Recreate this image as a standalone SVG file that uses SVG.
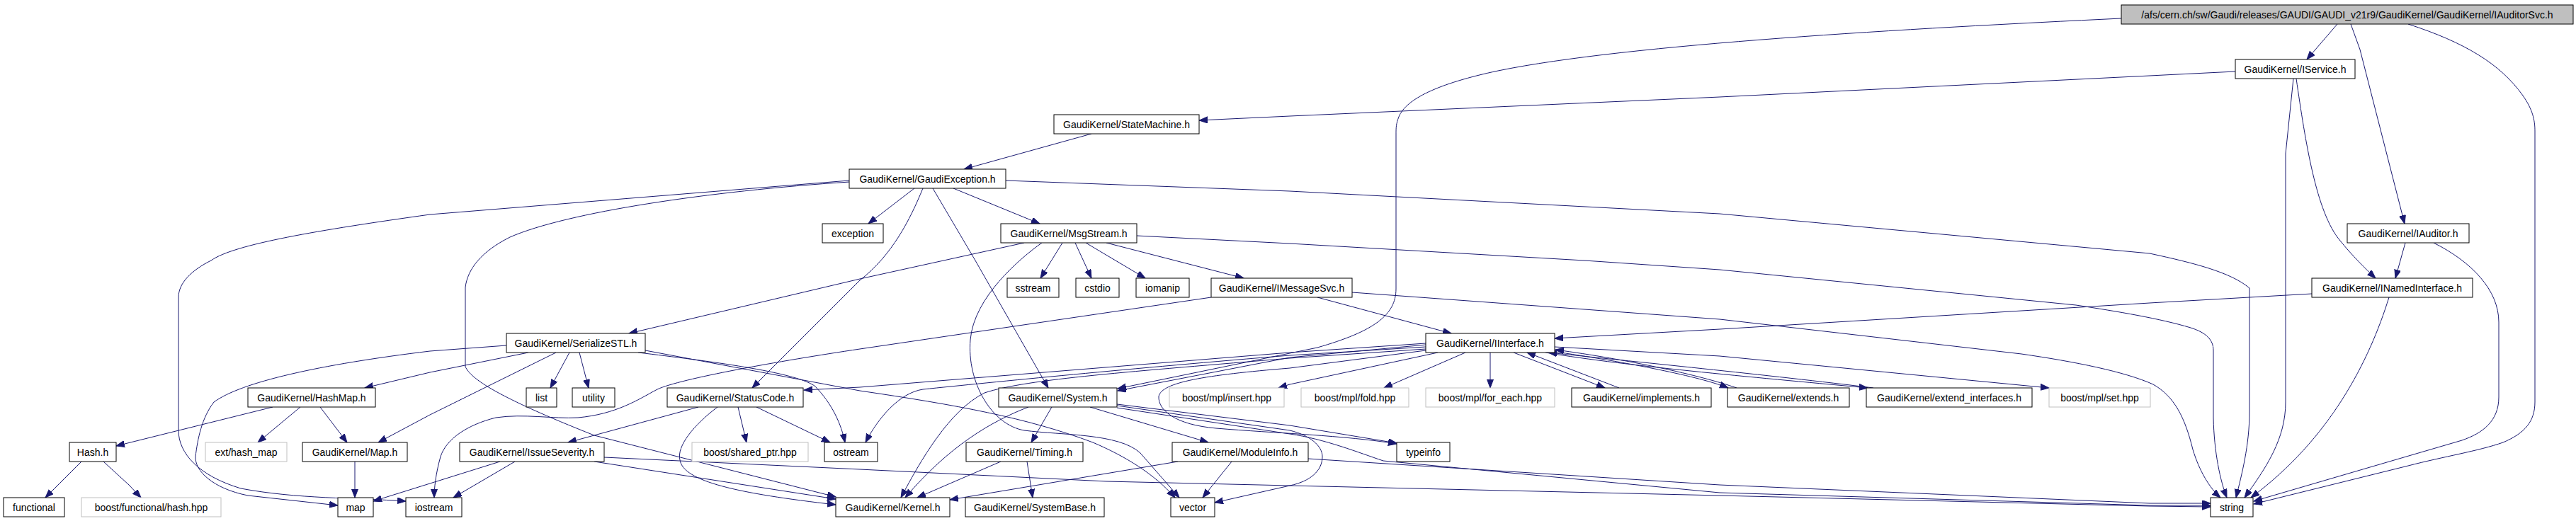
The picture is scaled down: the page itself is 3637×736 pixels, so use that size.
<svg xmlns="http://www.w3.org/2000/svg" width="3637" height="736" viewBox="0 0 3637 736">
<style>
.node rect{fill:#ffffff;stroke:#000000;stroke-width:1}
.node.ext rect{stroke:#bfbfbf}
.node.root rect{fill:#bfbfbf}
.node text{font-family:"Liberation Sans",Arial,sans-serif;font-size:14px;fill:#000000;text-anchor:middle}
#edges path{fill:none;stroke:#191970;stroke-width:1;marker-end:url(#ah)}
</style>
<defs>
<marker id="ah" markerUnits="userSpaceOnUse" markerWidth="13" markerHeight="10" refX="12" refY="4.5" orient="auto" viewBox="0 0 13 10">
<path d="M0,0 L12,4.5 L0,9 z" fill="#191970" stroke="#191970" stroke-width="1"/>
</marker>
</defs>
<rect x="0" y="0" width="3637" height="736" fill="#ffffff"/>
<g id="edges">
<path d="M3300,34 L3257,84"/>
<path d="M3319,34 L3332,70 L3395,316"/>
<path d="M3400,34 C3480,60 3530,90 3562,135 C3576,155 3579,170 3579,185 L3579,568 C3579,595 3565,612 3534,625 C3500,637 3450,645 3400,658 L3182,712"/>
<path d="M2995,26 C2700,40 2300,62 2115,100 C2030,118 1985,140 1975,165 C1971,175 1971,180 1971,190 L1971,408 C1971,445 1940,468 1860,491 L1578,549"/>
<path d="M3156,101 L3035,107 L2428,137 L1821,164 L1693,170"/>
<path d="M3242,111 C3255,200 3270,300 3304,340 C3320,360 3340,380 3354,393"/>
<path d="M3238,111 L3227,217 L3227,568 C3227,620 3200,660 3169,703"/>
<path d="M3396,343 L3382,393"/>
<path d="M3436,343 C3490,370 3528,410 3528,455 L3528,561 C3528,595 3505,612 3476,622 L3182,708"/>
<path d="M3264,415 L3035,428 L2428,465 L2195,478"/>
<path d="M3373,420 C3345,510 3290,620 3178,703"/>
<path d="M1541,189 L1361,239"/>
<path d="M1291,266 L1226,316"/>
<path d="M1346,266 L1468,316"/>
<path d="M1303,266 C1285,310 1260,360 1214,396 L1062,548"/>
<path d="M1317,266 L1377,368 L1480,548"/>
<path d="M1199,257 C1000,270 800,300 720,335 C680,355 660,380 657,406 L657,518 C665,535 700,560 839,615 L1180,702"/>
<path d="M1199,255 L607,303 C450,325 330,345 298,368 C270,382 252,400 252,420 L252,608 C252,640 280,672 340,690 C420,705 500,703 573,708"/>
<path d="M1420,255 L1821,270 L2428,302 L3035,358 C3100,372 3150,385 3176,407 L3176,581 C3176,630 3165,670 3157,703"/>
<path d="M1446,343 L1214,394 L888,471"/>
<path d="M1471,343 C1440,365 1375,420 1370,480 C1365,540 1400,600 1446,608 C1500,615 1580,612 1610,640 L1665,703"/>
<path d="M1500,343 L1469,393"/>
<path d="M1518,343 L1541,393"/>
<path d="M1533,343 L1617,393"/>
<path d="M1562,343 L1756,393"/>
<path d="M1605,333 L1821,344 L2237,368 L2428,381 L2931,431 C2990,440 3050,450 3093,463 C3115,470 3125,480 3125,495 L3125,590 C3126,640 3135,680 3144,703"/>
<path d="M1860,420 L2049,471"/>
<path d="M1909,413 L2428,451 L2854,500 C2930,511 3000,525 3040,543 C3070,560 3085,590 3096,635 C3105,665 3120,690 3135,703"/>
<path d="M1710,420 L1214,493 C1100,510 960,535 928,550 C900,565 870,585 816,590 C780,592 740,584 700,590 C660,600 630,620 622,645 C615,670 613,690 613,703"/>
<path d="M715,488 L607,496 C450,515 340,540 302,568 C285,590 279,620 276,645 C275,665 300,690 350,700 L477,714"/>
<path d="M746,498 L607,526 L515,548"/>
<path d="M785,498 L607,586 L534,625"/>
<path d="M804,498 L777,548"/>
<path d="M818,498 L831,548"/>
<path d="M901,498 C1000,510 1120,525 1150,545 C1175,570 1188,600 1193,625"/>
<path d="M911,495 L1214,552 C1350,572 1450,590 1543,625 C1590,645 1630,670 1659,703"/>
<path d="M385,575 L164,630"/>
<path d="M424,575 L364,625"/>
<path d="M452,575 L490,625"/>
<path d="M501,652 L501,703"/>
<path d="M115,652 L64,703"/>
<path d="M146,652 L182,685 L199,703"/>
<path d="M986,575 L802,625"/>
<path d="M1013,575 C980,600 955,630 960,650 C965,680 1040,697 1180,713"/>
<path d="M1042,575 L1054,625"/>
<path d="M1068,575 L1172,625"/>
<path d="M706,652 L607,683 L527,708"/>
<path d="M727,652 L640,703"/>
<path d="M853,646 L1214,663 L1562,680 L1821,686 L2428,700 L3035,715 L3121,716"/>
<path d="M839,652 L1180,705"/>
<path d="M1452,575 C1400,595 1340,630 1278,703"/>
<path d="M1485,575 L1456,625"/>
<path d="M1539,575 L1706,625"/>
<path d="M1577,571 L1821,601 L1972,626"/>
<path d="M1577,573 L1821,608 C1850,615 1867,630 1867,645 C1867,665 1850,680 1821,686 L1715,710"/>
<path d="M1577,576 L1821,613 C1870,620 1920,640 1953,651 L2428,696 L3035,714 L3121,714"/>
<path d="M1413,652 L1295,703"/>
<path d="M1450,652 L1458,703"/>
<path d="M1663,652 L1341,706"/>
<path d="M1739,652 L1698,703"/>
<path d="M1847,648 L2428,685 L3035,711 L3121,711"/>
<path d="M2013,487 L1821,505 L1578,552"/>
<path d="M2013,485 L1821,498 L1214,547 L1135,551"/>
<path d="M2013,490 L1821,502 C1600,520 1400,540 1303,550 C1270,555 1240,590 1222,625"/>
<path d="M2013,493 L1821,506 C1600,525 1450,535 1390,555 C1340,580 1300,650 1272,703"/>
<path d="M2013,495 L1821,520 C1700,530 1640,540 1636,560 C1635,580 1660,600 1717,605 C1800,612 1900,615 1972,627"/>
<path d="M2030,498 L1821,543 L1805,548"/>
<path d="M2069,498 L1954,548"/>
<path d="M2104,498 L2104,548"/>
<path d="M2137,498 L2266,548"/>
<path d="M2286,548 L2156,498"/>
<path d="M2195,490 L2428,503 L2893,548"/>
<path d="M2190,496 C2300,512 2400,532 2440,548"/>
<path d="M2452,548 C2400,530 2300,508 2196,494"/>
<path d="M2182,498 C2300,518 2500,535 2637,548"/>
<path d="M2645,548 C2500,530 2300,510 2186,498"/>
</g>
<g id="n_root" class="node root"><rect x="2995" y="7" width="638" height="27"/><text x="3314" y="25.5">/afs/cern.ch/sw/Gaudi/releases/GAUDI/GAUDI_v21r9/GaudiKernel/GaudiKernel/IAuditorSvc.h</text></g>
<g id="n_IService" class="node"><rect x="3156" y="84" width="169" height="27"/><text x="3240.5" y="102.5">GaudiKernel/IService.h</text></g>
<g id="n_StateMachine" class="node"><rect x="1488" y="162" width="205" height="27"/><text x="1590.5" y="180.5">GaudiKernel/StateMachine.h</text></g>
<g id="n_GaudiException" class="node"><rect x="1199" y="239" width="221" height="27"/><text x="1309.5" y="257.5">GaudiKernel/GaudiException.h</text></g>
<g id="n_exception" class="node"><rect x="1161" y="316" width="86" height="27"/><text x="1204" y="334.5">exception</text></g>
<g id="n_MsgStream" class="node"><rect x="1413" y="316" width="192" height="27"/><text x="1509" y="334.5">GaudiKernel/MsgStream.h</text></g>
<g id="n_IAuditor" class="node"><rect x="3314" y="316" width="172" height="27"/><text x="3400" y="334.5">GaudiKernel/IAuditor.h</text></g>
<g id="n_sstream" class="node"><rect x="1422" y="393" width="73" height="27"/><text x="1458.5" y="411.5">sstream</text></g>
<g id="n_cstdio" class="node"><rect x="1519" y="393" width="61" height="27"/><text x="1549.5" y="411.5">cstdio</text></g>
<g id="n_iomanip" class="node"><rect x="1604" y="393" width="75" height="27"/><text x="1641.5" y="411.5">iomanip</text></g>
<g id="n_IMessageSvc" class="node"><rect x="1710" y="393" width="199" height="27"/><text x="1809.5" y="411.5">GaudiKernel/IMessageSvc.h</text></g>
<g id="n_INamedInterface" class="node"><rect x="3264" y="393" width="227" height="27"/><text x="3377.5" y="411.5">GaudiKernel/INamedInterface.h</text></g>
<g id="n_SerializeSTL" class="node"><rect x="715" y="471" width="196" height="27"/><text x="813" y="489.5">GaudiKernel/SerializeSTL.h</text></g>
<g id="n_IInterface" class="node"><rect x="2013" y="471" width="182" height="27"/><text x="2104" y="489.5">GaudiKernel/IInterface.h</text></g>
<g id="n_HashMap" class="node"><rect x="350" y="548" width="180" height="27"/><text x="440" y="566.5">GaudiKernel/HashMap.h</text></g>
<g id="n_list" class="node"><rect x="743" y="548" width="43" height="27"/><text x="764.5" y="566.5">list</text></g>
<g id="n_utility" class="node"><rect x="808" y="548" width="60" height="27"/><text x="838" y="566.5">utility</text></g>
<g id="n_StatusCode" class="node"><rect x="942" y="548" width="192" height="27"/><text x="1038" y="566.5">GaudiKernel/StatusCode.h</text></g>
<g id="n_System" class="node"><rect x="1410" y="548" width="167" height="27"/><text x="1493.5" y="566.5">GaudiKernel/System.h</text></g>
<g id="n_insert" class="node ext"><rect x="1651" y="548" width="162" height="27"/><text x="1732" y="566.5">boost/mpl/insert.hpp</text></g>
<g id="n_fold" class="node ext"><rect x="1837" y="548" width="152" height="27"/><text x="1913" y="566.5">boost/mpl/fold.hpp</text></g>
<g id="n_for_each" class="node ext"><rect x="2013" y="548" width="182" height="27"/><text x="2104" y="566.5">boost/mpl/for_each.hpp</text></g>
<g id="n_implements" class="node"><rect x="2219" y="548" width="197" height="27"/><text x="2317.5" y="566.5">GaudiKernel/implements.h</text></g>
<g id="n_extends" class="node"><rect x="2439" y="548" width="172" height="27"/><text x="2525" y="566.5">GaudiKernel/extends.h</text></g>
<g id="n_extend_interfaces" class="node"><rect x="2635" y="548" width="234" height="27"/><text x="2752" y="566.5">GaudiKernel/extend_interfaces.h</text></g>
<g id="n_set" class="node ext"><rect x="2893" y="548" width="143" height="27"/><text x="2964.5" y="566.5">boost/mpl/set.hpp</text></g>
<g id="n_Hash" class="node"><rect x="98" y="625" width="66" height="27"/><text x="131" y="643.5">Hash.h</text></g>
<g id="n_ext_hash_map" class="node ext"><rect x="290" y="625" width="115" height="27"/><text x="347.5" y="643.5">ext/hash_map</text></g>
<g id="n_Map" class="node"><rect x="427" y="625" width="148" height="27"/><text x="501" y="643.5">GaudiKernel/Map.h</text></g>
<g id="n_IssueSeverity" class="node"><rect x="649" y="625" width="204" height="27"/><text x="751" y="643.5">GaudiKernel/IssueSeverity.h</text></g>
<g id="n_shared_ptr" class="node ext"><rect x="977" y="625" width="164" height="27"/><text x="1059" y="643.5">boost/shared_ptr.hpp</text></g>
<g id="n_ostream" class="node"><rect x="1164" y="625" width="75" height="27"/><text x="1201.5" y="643.5">ostream</text></g>
<g id="n_Timing" class="node"><rect x="1364" y="625" width="165" height="27"/><text x="1446.5" y="643.5">GaudiKernel/Timing.h</text></g>
<g id="n_ModuleInfo" class="node"><rect x="1655" y="625" width="192" height="27"/><text x="1751" y="643.5">GaudiKernel/ModuleInfo.h</text></g>
<g id="n_typeinfo" class="node"><rect x="1972" y="625" width="75" height="27"/><text x="2009.5" y="643.5">typeinfo</text></g>
<g id="n_functional" class="node"><rect x="5" y="703" width="86" height="27"/><text x="48" y="721.5">functional</text></g>
<g id="n_hash_hpp" class="node ext"><rect x="115" y="703" width="197" height="27"/><text x="213.5" y="721.5">boost/functional/hash.hpp</text></g>
<g id="n_map" class="node"><rect x="477" y="703" width="50" height="27"/><text x="502" y="721.5">map</text></g>
<g id="n_iostream" class="node"><rect x="573" y="703" width="79" height="27"/><text x="612.5" y="721.5">iostream</text></g>
<g id="n_Kernel" class="node"><rect x="1180" y="703" width="161" height="27"/><text x="1260.5" y="721.5">GaudiKernel/Kernel.h</text></g>
<g id="n_SystemBase" class="node"><rect x="1363" y="703" width="196" height="27"/><text x="1461" y="721.5">GaudiKernel/SystemBase.h</text></g>
<g id="n_vector" class="node"><rect x="1653" y="703" width="62" height="27"/><text x="1684" y="721.5">vector</text></g>
<g id="n_string" class="node"><rect x="3121" y="703" width="60" height="27"/><text x="3151" y="721.5">string</text></g>
</svg>
